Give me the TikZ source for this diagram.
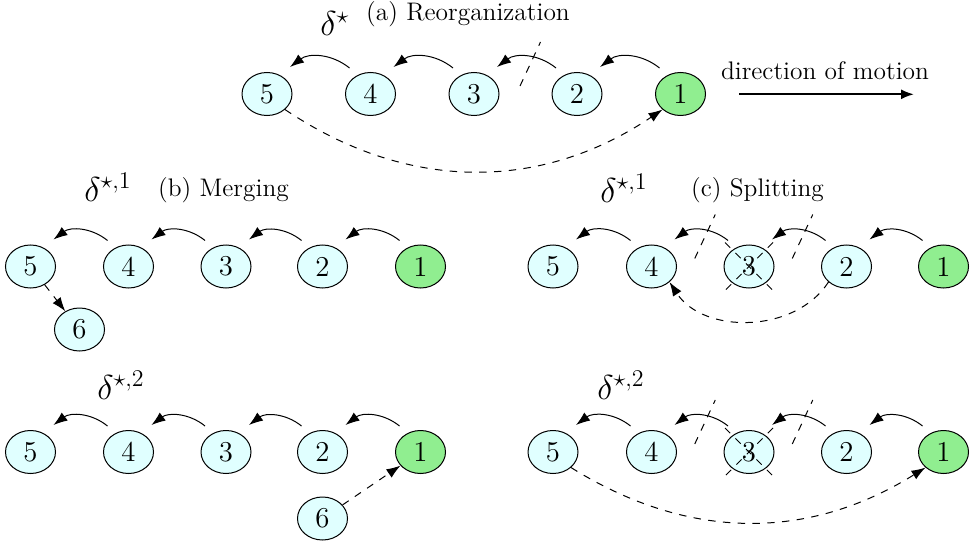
\documentclass[tikz,border=0pt]{standalone}
\usepackage{fontspec}
\usetikzlibrary{shapes.geometric,arrows.meta,calc}
\definecolor{cyanfill}{RGB}{224,255,255}
\definecolor{greenfill}{RGB}{144,238,144}
\begin{document}
\begin{tikzpicture}[x=0.5pt,y=-0.5pt]
\tikzset{
  nd/.style={ellipse, draw, line width=0.5pt, fill=cyanfill, minimum width=25pt, minimum height=21.5pt, inner sep=0pt, font=\Large},
  hd/.style={nd, fill=greenfill},
  arr/.style={-{Latex[length=7pt,width=5pt]}, line width=0.5pt},
  dsh/.style={dash pattern=on 3.7pt off 3.7pt, line width=0.5pt},
  lbl/.style={font=\fontsize{12.7}{15}\selectfont, inner sep=0pt, anchor=base},
  dl/.style={font=\LARGE, inner sep=0pt, anchor=base west},
}
\useasboundingbox (0,0) rectangle (977,545);
% (a) reorganization
\node[nd] (a5) at (267,94) {5};
\node[nd] (a4) at (370.5,94) {4};
\node[nd] (a3) at (474,94) {3};
\node[nd] (a2) at (577,94) {2};
\node[hd] (a1) at (680.5,94) {1};
% (b) merging, first row
\node[nd] (b5) at (30.5,266.5) {5};
\node[nd] (b4) at (128.5,266.5) {4};
\node[nd] (b3) at (226,266.5) {3};
\node[nd] (b2) at (322.5,266.5) {2};
\node[hd] (b1) at (420.5,266.5) {1};
\node[nd] (b6) at (79.5,329.5) {6};
% (b) merging, second row
\node[nd] (d5) at (30.5,452) {5};
\node[nd] (d4) at (128.5,452) {4};
\node[nd] (d3) at (226,452) {3};
\node[nd] (d2) at (322.5,452) {2};
\node[hd] (d1) at (420.5,452) {1};
\node[nd] (d6) at (322.5,518.5) {6};
% (c) splitting, first row
\node[nd] (c5) at (553,266.5) {5};
\node[nd] (c4) at (651.5,266.5) {4};
\node[nd] (c3) at (749,266.5) {3};
\node[nd] (c2) at (846.5,266.5) {2};
\node[hd] (c1) at (943.5,266.5) {1};
% (c) splitting, second row
\node[nd] (e5) at (553,452) {5};
\node[nd] (e4) at (651.5,452) {4};
\node[nd] (e3) at (749,452) {3};
\node[nd] (e2) at (846.5,452) {2};
\node[hd] (e1) at (943.5,452) {1};
% chain arrows
\foreach \r in {a,b,d,c,e}
  \foreach \i/\j in {2/1,3/2,4/3,5/4}
    \draw[arr] ([shift={(-21,-26)}]\r\j.center) to[bend right=38] ([shift={(23,-27)}]\r\i.center);
% dashed links
\draw[arr,dsh] (a5.south east) to[bend right=34] (a1.south west);
\draw[arr,dsh] (b5) -- (b6);
\draw[arr,dsh] (d6) -- (d1);
\draw[arr,dsh] (c2.south west) to[bend left=57] (c4.south east);
\draw[arr,dsh] (e5.south east) to[bend right=32] (e1.south west);
% cut marks
\draw[dsh] ($(a3)!0.5!(a2)+(-5.5,-8)$) -- ($(a3)!0.5!(a2)+(15,-52)$);
\foreach \r in {c,e} {
  \draw[dsh] ($(\r4)!0.5!(\r3)+(-5.5,-8)$) -- ($(\r4)!0.5!(\r3)+(15,-52)$);
  \draw[dsh] ($(\r3)!0.5!(\r2)+(-5.5,-8)$) -- ($(\r3)!0.5!(\r2)+(15,-52)$);
  \draw[dsh] ([shift={(-24,-24)}]\r3.center) -- ([shift={(24,24)}]\r3.center);
  \draw[dsh] ([shift={(24,-24)}]\r3.center) -- ([shift={(-24,24)}]\r3.center);
}
% labels
\node[dl] (la) at (320,36) {$\delta^{\star}$};
\node[lbl] (ta) at (468,21) {(a) Reorganization};
\node[dl] (lb1) at (84,201) {$\delta^{\star,1}$};
\node[lbl] (tb) at (223.5,196.5) {(b) Merging};
\node[dl] (lb2) at (97,399) {$\delta^{\star,2}$};
\node[dl] (lc1) at (600,202) {$\delta^{\star,1}$};
\node[lbl] (tc) at (757.5,197) {(c) Splitting};
\node[dl] (lc2) at (597,399) {$\delta^{\star,2}$};
% direction of motion
\node[lbl] (dir) at (825,80) {direction of motion};
\coordinate (dirA) at (739,94.3);
\coordinate (dirB) at (914,94.3);
\draw[-{Latex[length=6.5pt,width=5pt]}, line width=1pt] (dirA) -- (dirB);
\end{tikzpicture}
\end{document}
